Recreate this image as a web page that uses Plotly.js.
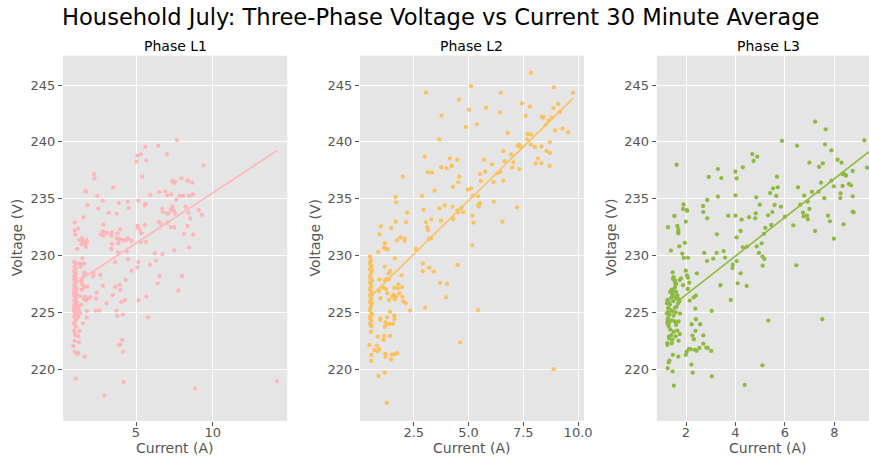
<!DOCTYPE html>
<html>
<head>
<meta charset="utf-8">
<script src="https://cdn.plot.ly/plotly-3.0.1.min.js"></script>
<style>html,body{margin:0;padding:0;background:#fff;}#chart{width:869px;height:461px;}</style>
</head>
<body>
<div id="chart"></div>
<script>
// ---------- DATA ----------
const chartTitle = "Household July: Three-Phase Voltage vs Current 30 Minute Average";
const phaseNames = ["Phase L1", "Phase L2", "Phase L3"];
const xLabel = "Current (A)";
const yLabel = "Voltage (V)";

const yTicks = [220, 225, 230, 235, 240, 245];
const xTicksL1 = [5, 10];
const xTickTextL1 = ["5", "10"];
const xTicksL2 = [2.5, 5.0, 7.5, 10.0];
const xTickTextL2 = ["2.5", "5.0", "7.5", "10.0"];
const xTicksL3 = [2, 4, 6, 8];
const xTickTextL3 = ["2", "4", "6", "8"];

// Phase L1 readings
const l1Current = [
7.67,6.46,5.61,5.30,5.09,5.02,5.67,7.02,9.41,2.26,2.30,5.41,7.96,8.37,8.67,7.37,7.48,7.55,3.52,1.68,
1.76,2.48,2.83,5.93,6.52,6.91,7.04,7.85,8.09,8.70,8.46,7.30,7.63,3.87,4.46,5.15,1.83,2.54,4.52,5.63,
5.57,6.72,7.37,8.24,9.09,6.74,6.98,7.12,7.28,7.48,7.54,8.43,9.30,3.22,3.74,1.57,1.00,1.22,1.00,1.04,
2.87,2.83,2.89,2.70,3.11,3.39,3.43,3.98,3.80,5.10,5.12,5.24,5.35,5.57,6.50,6.65,7.04,7.28,7.50,8.37,
8.54,8.13,8.74,1.48,1.28,1.52,1.78,1.78,1.46,1.72,1.17,1.72,3.43,3.39,3.85,3.74,3.87,3.96,4.17,4.48,
4.30,4.37,4.72,3.83,4.41,4.48,3.65,5.15,5.09,4.70,5.30,5.65,6.22,6.72,7.50,8.46,5.91,6.30,6.54,6.41,
8.00,7.76,1.50,2.22,2.67,2.83,2.43,2.41,3.09,3.48,3.65,3.93,3.98,4.04,4.33,4.28,5.17,5.67,2.37,2.63,
3.72,3.78,4.15,5.78,1.78,1.54,1.30,1.28,1.24,1.00,1.00,1.17,1.24,1.65,0.91,4.11,3.96,3.87,4.15,1.07,
4.20,2.93,8.85,14.20,
0.97,0.97,0.97,0.97,0.97,0.97,0.97,0.97,0.97,0.97,0.97,0.97,0.97,0.97,
1.08,1.08,1.08,1.08,1.08,1.08,1.08,1.08,1.08,1.08,1.08,1.08,1.08,1.08,
0.95,0.95,0.95,1.12,1.12,1.12,1.12,1.02,1.02,1.02,1.02,
1.30,1.61,1.39,1.63,1.72,1.57,1.43,1.52,1.61,1.46,1.83,1.35,1.67,1.78,1.89,2.00,1.61,1.74,1.43,1.22,
1.78,1.35,1.28,1.24,1.46,2.20
];
const l1Voltage = [
240.16,239.67,239.55,238.90,238.79,238.26,238.38,238.90,237.94,237.17,236.79,236.94,236.79,236.59,236.41,236.56,236.40,236.50,236.00,235.65,
235.65,235.24,234.83,235.33,235.60,235.65,235.30,235.27,235.24,235.39,235.24,235.39,234.89,234.62,234.74,234.83,234.42,234.13,234.19,234.54,
234.42,234.13,234.30,234.30,234.01,233.86,233.70,233.70,234.04,233.92,233.69,233.77,233.60,233.75,233.69,233.36,232.92,232.37,232.22,231.84,
232.72,232.13,231.75,231.87,231.99,231.75,232.02,232.31,231.96,232.60,232.45,232.28,231.96,232.69,232.95,232.75,232.87,232.51,232.49,232.60,
233.25,231.90,231.84,231.50,231.36,231.23,231.36,231.13,230.99,231.02,230.58,230.76,231.02,230.60,231.08,231.50,231.40,231.43,231.37,231.50,
231.33,231.37,231.30,230.29,230.35,229.67,229.44,229.44,228.97,228.67,231.20,231.20,230.20,230.14,230.46,230.70,229.20,229.55,228.18,227.56,
228.18,226.92,229.76,228.47,228.29,227.36,226.74,226.21,225.80,226.51,227.24,227.44,226.97,225.92,227.85,226.10,226.04,226.39,225.16,225.16,
225.16,224.69,224.81,224.57,224.54,224.04,223.37,222.37,222.90,222.49,221.55,221.35,221.44,221.11,222.05,222.58,222.17,222.14,221.55,219.18,
218.89,217.69,218.30,218.95,
229.44,229.00,228.59,228.15,227.85,227.42,226.98,226.45,226.04,225.60,225.13,224.63,223.99,223.40,
229.29,228.88,228.47,228.00,227.65,227.21,226.83,226.24,225.80,225.42,224.92,224.34,223.75,222.96,
226.70,225.30,224.10,226.60,227.00,225.90,224.50,228.30,227.10,225.00,223.10,
229.32,229.29,229.03,228.53,228.35,228.15,227.85,227.42,227.18,226.98,227.27,226.45,226.39,226.24,226.24,226.33,226.15,226.04,225.66,225.57,
225.13,224.92,225.22,224.63,227.56,228.15
];
const l1FitCurrent = [1.02, 14.20];
const l1FitVoltage = [227.56, 239.23];

// Phase L2 readings
const l2Current = [
7.85,5.12,8.89,9.77,3.06,6.47,4.56,9.09,7.44,7.80,5.02,5.80,6.44,8.88,9.17,3.77,7.61,8.35,8.39,8.42,
8.65,8.52,8.80,5.38,4.88,6.79,9.30,9.55,8.95,7.70,7.85,7.67,7.85,8.71,8.03,8.33,7.30,7.35,7.24,7.39,
8.56,8.71,8.17,8.06,8.33,8.70,7.32,6.59,6.95,7.00,7.05,6.64,6.08,5.70,5.76,5.53,5.56,6.14,6.45,6.32,
6.59,3.00,3.67,3.76,4.00,4.15,4.23,4.48,4.58,4.53,3.15,3.33,4.29,4.97,5.12,5.20,5.44,5.45,5.53,5.47,
6.15,7.21,2.00,1.67,1.70,3.45,2.88,2.95,3.68,3.91,4.27,4.50,4.68,4.76,4.53,4.30,4.29,5.18,5.23,6.55,
2.20,2.15,3.74,3.30,3.06,3.11,3.15,3.29,3.20,1.00,0.94,1.47,1.68,1.73,1.89,2.08,2.08,1.18,1.14,1.23,
1.32,0.88,2.59,1.64,5.17,2.91,2.91,3.41,3.21,4.50,3.70,4.02,3.98,3.02,5.44,4.62,8.89,
1.42,1.36,1.17,1.18,1.27,1.35,0.94,0.92,0.98,1.11,1.23,1.30,1.61,1.58,1.52,1.38,1.65,1.70,1.77,1.80,
1.97,1.98,2.03,2.14,2.33,1.94,1.85,1.42,1.61,1.62,1.56,1.41,1.20,1.29,1.18,1.30,0.98,0.97,0.86,1.42,
1.15,1.12,0.92,0.82,0.70,0.85,0.56,0.56,1.21,1.21,1.47,1.50,1.62,1.74,0.89,1.17,1.27,
0.50,0.50,0.50,0.50,0.50,0.50,0.50,0.50,0.50,0.50,0.50,
0.56,0.56,0.56,0.56,0.56,0.56,0.56,0.56,0.56,0.56,0.56,
0.53,0.53,0.53,0.53,0.53,0.53,0.60,0.60,0.60,0.60,0.60,0.48,0.55
];
const l2Voltage = [
246.06,244.91,244.79,244.33,244.33,244.33,243.71,243.33,243.39,243.10,242.83,243.00,242.60,242.95,242.63,242.33,242.30,242.20,242.12,242.20,
241.86,241.48,242.13,241.54,241.31,240.78,241.16,240.84,241.01,240.68,240.65,240.22,239.75,239.96,239.55,239.60,239.75,239.58,239.65,239.47,
239.20,239.02,238.52,238.11,238.11,237.90,237.61,239.20,238.90,237.73,238.20,238.29,238.00,238.43,237.38,237.17,236.56,236.47,237.35,237.23,
236.59,238.70,240.22,237.76,237.67,238.55,237.88,238.43,236.94,236.44,237.32,237.29,236.03,235.80,235.91,235.24,235.21,234.50,234.62,234.33,
234.74,234.24,236.94,235.15,234.68,235.71,235.24,234.04,234.16,234.42,234.30,233.98,234.21,233.83,233.80,233.19,233.34,233.51,232.90,232.98,
233.77,232.93,233.07,233.19,232.95,232.51,232.25,231.52,231.46,232.57,231.87,232.43,232.98,231.34,231.60,231.48,231.31,231.08,230.69,230.60,
230.57,230.32,230.58,229.76,230.90,229.32,228.62,228.59,228.94,229.17,227.59,227.53,226.33,225.42,225.19,222.37,220.00,
228.65,228.44,229.03,227.85,227.91,227.91,227.91,226.89,226.24,227.18,227.03,226.68,227.18,226.54,226.39,226.10,226.15,226.39,227.12,227.47,
227.21,226.36,225.95,225.80,225.16,228.26,226.68,225.07,224.72,224.40,223.99,223.99,224.13,224.57,223.75,223.96,224.48,224.34,222.87,222.93,
222.93,222.58,221.76,222.08,221.70,221.61,221.26,220.73,221.38,221.11,220.85,221.29,221.32,221.41,219.41,219.71,217.04,
229.90,229.40,228.80,228.20,227.60,227.10,226.50,225.90,225.20,224.60,224.00,
229.60,229.10,228.50,227.90,227.30,226.80,226.20,225.60,224.90,224.30,223.80,
229.20,228.00,226.90,226.00,225.40,224.40,228.70,227.80,226.60,225.80,224.80,222.14,223.30
];
const l2FitCurrent = [0.52, 9.77];
const l2FitVoltage = [226.39, 243.83];

// Phase L3 readings
const l3Current = [
7.22,7.65,9.21,5.88,6.49,7.62,7.88,4.68,4.88,4.73,8.13,8.29,6.99,1.62,9.32,7.38,7.53,4.30,3.29,4.00,
2.92,3.43,4.05,5.68,8.74,8.32,8.43,8.37,8.47,7.88,7.46,8.59,8.67,8.33,5.52,5.71,6.53,7.09,7.36,7.98,
5.40,5.65,6.78,7.59,8.25,8.74,8.24,4.00,3.29,2.86,1.90,1.88,2.05,4.84,5.58,4.98,5.84,2.69,2.70,2.86,
6.62,6.92,6.73,6.99,6.89,6.93,6.76,4.82,4.80,4.55,4.25,4.00,3.71,5.32,5.49,6.00,6.34,7.74,7.82,8.37,
8.74,8.78,7.22,7.98,5.45,5.21,5.15,4.21,4.05,3.25,1.53,1.27,1.65,1.69,1.69,1.69,1.99,2.03,1.39,1.73,
1.95,1.85,2.08,1.91,2.74,2.85,3.10,3.24,3.52,3.58,4.30,4.47,4.86,4.95,5.06,5.09,5.17,5.10,4.05,3.89,
3.88,4.21,4.09,4.45,3.39,3.81,3.04,6.46,5.33,7.51,5.09,4.37,3.04,1.51,1.46,2.27,2.22,1.30,1.26,1.33,
1.47,1.69,1.99,2.03,2.12,2.20,2.36,2.43,2.54,2.82,2.88,3.02,2.70,2.70,2.32,2.26,2.38,2.23,2.57,2.40,
2.38,2.31,2.40,2.15,2.13,2.07,1.99,2.04,2.08,2.44,1.80,1.75,1.88,1.55,1.57,1.48,1.46,
1.25,1.30,1.28,1.35,1.40,1.45,1.50,1.55,1.60,1.65,1.70,1.48,1.38,1.33,1.27,1.24,1.30,1.42,1.50,1.58,
1.62,1.68,1.74,1.55,1.45,1.36,1.40,1.50,1.60,1.70,1.76,1.65,1.32,1.45,1.58,1.26,1.52,1.42,1.36,1.60,
1.56,1.50,1.24,1.70,1.75,1.35,1.55,1.62,1.26,1.23,1.29,1.23,1.26,1.29,1.31,1.25,1.42
];
const l3Voltage = [
241.78,241.10,240.14,240.08,239.67,239.78,239.26,238.93,238.70,238.32,238.43,238.17,238.17,237.99,237.73,237.80,238.11,237.76,237.61,237.38,
236.91,236.82,236.79,236.94,237.44,237.17,237.09,237.23,237.03,236.59,236.41,236.30,236.18,236.12,235.91,236.00,236.00,235.60,235.62,236.09,
235.50,235.24,235.27,235.04,235.47,235.21,235.06,235.30,235.18,234.89,234.50,234.10,233.95,235.12,234.45,234.48,234.30,234.36,233.83,233.28,
234.48,234.74,233.77,234.10,233.51,233.19,233.45,233.72,233.28,233.37,233.16,233.51,233.51,233.54,233.83,233.42,232.66,233.51,233.01,232.75,
233.86,233.80,232.16,231.49,232.69,232.43,231.90,232.16,231.60,231.87,233.48,232.49,232.60,232.30,232.10,231.95,232.98,234.00,230.43,230.81,
231.11,230.17,229.80,229.80,230.23,229.52,229.73,230.23,230.40,229.82,230.73,230.79,230.81,230.23,231.08,229.91,229.70,229.11,229.52,229.20,
228.90,228.44,227.56,227.33,227.39,226.10,225.13,229.14,224.28,224.40,220.35,218.62,219.38,218.56,219.82,219.70,220.41,220.60,220.10,220.75,
221.27,221.12,221.27,221.55,221.80,221.75,221.70,221.62,221.88,221.90,221.88,221.61,222.25,222.98,222.64,222.96,223.37,223.96,223.96,224.40,
225.33,226.33,226.48,226.04,227.62,227.06,228.67,228.26,228.06,228.44,228.00,227.85,227.40,227.70,227.50,227.95,228.53,
226.10,225.90,225.40,225.70,226.30,226.60,226.90,227.20,226.80,226.50,226.20,226.00,225.20,224.80,224.50,224.10,223.80,224.30,224.70,225.00,
225.50,225.80,226.00,225.40,225.10,223.50,223.00,223.30,223.90,224.20,224.90,223.40,222.70,222.60,222.90,225.00,226.40,227.00,226.80,227.50,
227.80,228.10,222.30,222.50,223.10,224.20,224.20,226.20,226.04,225.80,225.36,224.92,224.34,223.87,222.87,222.14,222.29
];
const l3FitCurrent = [1.76, 9.40];
const l3FitVoltage = [226.15, 239.14];

// ---------- STYLE ----------
const colors = ["#FFB5B8", "#FBC15E", "#8EBA42"];
const W = 869, H = 461;
const px = v => v / W;
const py = v => (H - v) / H;

const currents = [l1Current, l2Current, l3Current];
const voltages = [l1Voltage, l2Voltage, l3Voltage];
const fitC = [l1FitCurrent, l2FitCurrent, l3FitCurrent];
const fitV = [l1FitVoltage, l2FitVoltage, l3FitVoltage];

const traces = [];
for (let i = 0; i < 3; i++) {
  const ax = i === 0 ? "" : String(i + 1);
  traces.push({
    type: "scatter", mode: "markers", x: currents[i], y: voltages[i],
    xaxis: "x" + ax, yaxis: "y" + ax,
    marker: {color: colors[i], size: 4.3, line: {width: 0}},
    hoverinfo: "x+y", showlegend: false
  });
  traces.push({
    type: "scatter", mode: "lines", x: fitC[i], y: fitV[i],
    xaxis: "x" + ax, yaxis: "y" + ax,
    line: {color: colors[i], width: 1.6},
    hoverinfo: "skip", showlegend: false
  });
}

const font = {family: "DejaVu Sans, sans-serif", size: 13, color: "#555555"};
function xaxis(domain, range, tv, tt) {
  return {domain: domain, range: range, tickvals: tv, ticktext: tt,
    showgrid: true, gridcolor: "#FFFFFF", gridwidth: 1, zeroline: false, showline: false,
    ticks: "outside", ticklen: 4, tickwidth: 1, tickcolor: "#555555",
    ticklabelstandoff: -5,
    tickfont: font, fixedrange: true};
}
function yaxis(anchor) {
  return {domain: [py(421), py(55.7)], range: [215.45, 247.58], tickvals: yTicks,
    showgrid: true, gridcolor: "#FFFFFF", gridwidth: 1, zeroline: false, showline: false,
    ticks: "outside", ticklen: 4, tickwidth: 1, tickcolor: "#555555",
    tickfont: font, anchor: anchor, fixedrange: true};
}

const panelCenter = [175.2, 472, 768.3];
const panelYLabelX = [17.3, 314.5, 611];

const annotations = [
  {text: chartTitle, x: px(440), y: py(16.5), xref: "paper", yref: "paper",
   xanchor: "center", yanchor: "middle", showarrow: false,
   font: {family: "DejaVu Sans, sans-serif", size: 22.6, color: "#000000"}}
];
for (let i = 0; i < 3; i++) {
  annotations.push({text: phaseNames[i], x: px(panelCenter[i]), y: py(45.5), xref: "paper", yref: "paper",
    xanchor: "center", yanchor: "middle", showarrow: false,
    font: {family: "DejaVu Sans, sans-serif", size: 14, color: "#000000"}});
  annotations.push({text: xLabel, x: px(panelCenter[i]), y: py(448), xref: "paper", yref: "paper",
    xanchor: "center", yanchor: "middle", showarrow: false,
    font: {family: "DejaVu Sans, sans-serif", size: 14, color: "#555555"}});
  annotations.push({text: yLabel, x: px(panelYLabelX[i]), y: py(238), xref: "paper", yref: "paper",
    xanchor: "center", yanchor: "middle", showarrow: false, textangle: -90,
    font: {family: "DejaVu Sans, sans-serif", size: 14, color: "#555555"}});
}

const layout = {
  width: W, height: H,
  margin: {l: 0, r: 0, t: 0, b: 0, pad: 0},
  paper_bgcolor: "#FFFFFF", plot_bgcolor: "#E5E5E5",
  showlegend: false,
  xaxis: xaxis([px(63), px(287.3)], [0.238, 14.87], xTicksL1, xTickTextL1),
  yaxis: yaxis("x"),
  xaxis2: xaxis([px(360), px(584)], [0.048, 10.27], xTicksL2, xTickTextL2),
  yaxis2: yaxis("x2"),
  xaxis3: xaxis([px(656.7), 1], [0.815, 9.40], xTicksL3, xTickTextL3),
  yaxis3: yaxis("x3"),
  annotations: annotations
};
layout.xaxis.anchor = "y";
layout.xaxis2.anchor = "y2";
layout.xaxis3.anchor = "y3";

Plotly.newPlot("chart", traces, layout, {displayModeBar: false, staticPlot: true});
</script>
</body>
</html>
